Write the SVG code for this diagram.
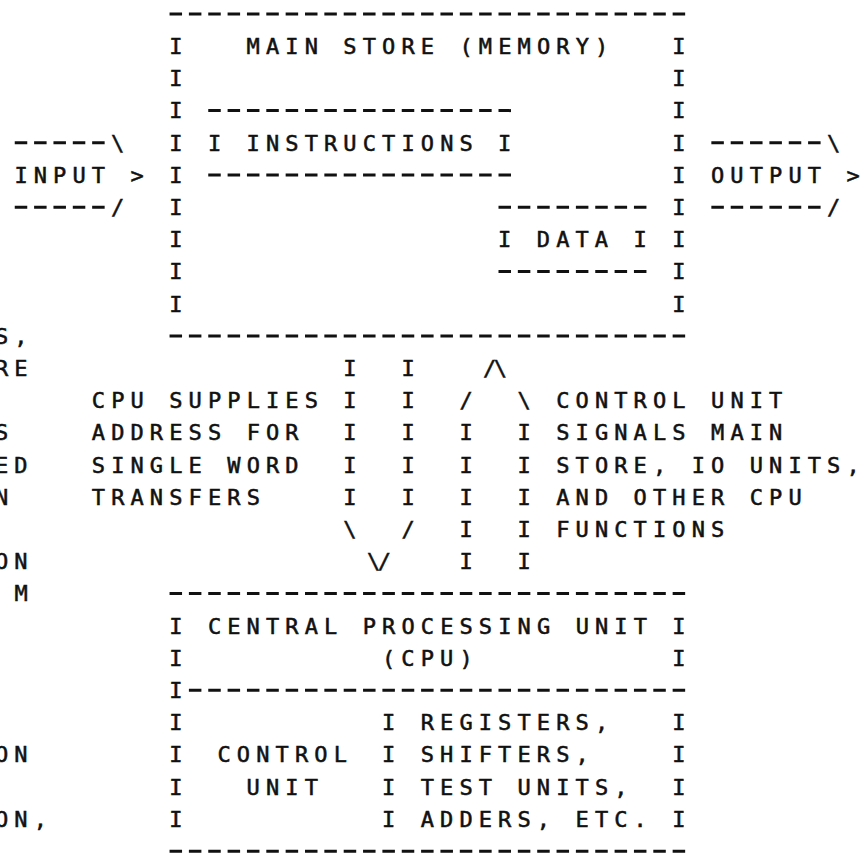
<svg xmlns="http://www.w3.org/2000/svg" width="864" height="857" viewBox="0 0 864 857">
<style>
.t{font-family:"DejaVu Sans Mono","Liberation Mono",monospace;font-size:22px;letter-spacing:6.11px;fill:#111;stroke:#111;stroke-width:0.55}
.v{letter-spacing:-2.5px}
.n{letter-spacing:0}
.d{stroke:#111;stroke-width:3;stroke-dasharray:12.5 6.85;fill:none}
</style>
<rect width="864" height="857" fill="#fff"/>

<g id="main-store">
<line class="d" x1="169.55" y1="14" x2="685.15" y2="14"/>
<line class="d" x1="169.55" y1="336" x2="685.15" y2="336"/>
<text class="t" x="169.2" y="54">I</text>
<text class="t" x="246.6" y="54">MAIN STORE (MEMORY)</text>
<text class="t" x="672.3" y="54">I</text>
<text class="t" x="169.2" y="86.2">I</text><text class="t" x="672.3" y="86.2">I</text>
<text class="t" x="169.2" y="118.4">I</text><text class="t" x="672.3" y="118.4">I</text>
<text class="t" x="169.2" y="150.6">I</text><text class="t" x="672.3" y="150.6">I</text>
<text class="t" x="169.2" y="182.8">I</text><text class="t" x="672.3" y="182.8">I</text>
<text class="t" x="169.2" y="215">I</text><text class="t" x="672.3" y="215">I</text>
<text class="t" x="169.2" y="247.2">I</text><text class="t" x="672.3" y="247.2">I</text>
<text class="t" x="169.2" y="279.4">I</text><text class="t" x="672.3" y="279.4">I</text>
<text class="t" x="169.2" y="311.6">I</text><text class="t" x="672.3" y="311.6">I</text>
</g>

<g id="instructions">
<line class="d" x1="208.25" y1="110.6" x2="511" y2="110.6"/>
<line class="d" x1="208.25" y1="175" x2="511" y2="175"/>
<text class="t" x="207.9" y="150.6">I</text>
<text class="t" x="246.6" y="150.6">INSTRUCTIONS</text>
<text class="t" x="498.1" y="150.6">I</text>
</g>

<g id="data">
<line class="d" x1="498.5" y1="207.2" x2="646.45" y2="207.2"/>
<line class="d" x1="498.5" y1="271.6" x2="646.45" y2="271.6"/>
<text class="t" x="498.1" y="247.2">I</text>
<text class="t" x="536.8" y="247.2">DATA</text>
<text class="t" x="633.6" y="247.2">I</text>
</g>

<g id="input">
<line class="d" x1="14.75" y1="142.8" x2="104.65" y2="142.8"/>
<text class="t" x="111.1" y="150.6">\</text>
<text class="t" x="14.4" y="182.8">INPUT &gt;</text>
<line class="d" x1="14.75" y1="207.2" x2="104.65" y2="207.2"/>
<text class="t" x="111.1" y="215">/</text>
</g>

<g id="output">
<line class="d" x1="711.35" y1="142.8" x2="820.6" y2="142.8"/>
<text class="t" x="827.1" y="150.6">\</text>
<text class="t n" x="711" y="182.8" textLength="148.7" lengthAdjust="spacing">OUTPUT &gt;</text>
<line class="d" x1="711.35" y1="207.2" x2="820.6" y2="207.2"/>
<text class="t" x="827.1" y="215">/</text>
</g>

<g id="connectors">
<g id="address-path">
<text class="t" x="343.3" y="376">I</text><text class="t" x="401.4" y="376">I</text>
<text class="t" x="343.3" y="408.2">I</text><text class="t" x="401.4" y="408.2">I</text>
<text class="t" x="343.3" y="440.4">I</text><text class="t" x="401.4" y="440.4">I</text>
<text class="t" x="343.3" y="472.6">I</text><text class="t" x="401.4" y="472.6">I</text>
<text class="t" x="343.3" y="504.8">I</text><text class="t" x="401.4" y="504.8">I</text>
<text class="t" x="343.3" y="537">\</text><text class="t" x="401.4" y="537">/</text>
<text class="t v" x="367" y="569.2">\/</text>
</g>
<g id="control-path">
<text class="t v" x="483" y="376">/\</text>
<text class="t" x="459.4" y="408.2">/</text><text class="t" x="517.5" y="408.2">\</text>
<text class="t" x="459.4" y="440.4">I</text><text class="t" x="517.5" y="440.4">I</text>
<text class="t" x="459.4" y="472.6">I</text><text class="t" x="517.5" y="472.6">I</text>
<text class="t" x="459.4" y="504.8">I</text><text class="t" x="517.5" y="504.8">I</text>
<text class="t" x="459.4" y="537">I</text><text class="t" x="517.5" y="537">I</text>
<text class="t" x="459.4" y="569.2">I</text><text class="t" x="517.5" y="569.2">I</text>
</g>
</g>

<g id="address-label">
<text class="t" x="91.8" y="408.2">CPU SUPPLIES</text>
<text class="t" x="91.8" y="440.4">ADDRESS FOR</text>
<text class="t" x="91.8" y="472.6">SINGLE WORD</text>
<text class="t" x="91.8" y="504.8">TRANSFERS</text>
</g>

<g id="control-label">
<text class="t" x="556.2" y="408.2">CONTROL UNIT</text>
<text class="t" x="556.2" y="440.4">SIGNALS MAIN</text>
<text class="t n" x="556.2" y="472.6" textLength="303.5" lengthAdjust="spacing">STORE, IO UNITS,</text>
<text class="t" x="556.2" y="504.8">AND OTHER CPU</text>
<text class="t" x="556.2" y="537">FUNCTIONS</text>
</g>

<g id="cpu">
<line class="d" x1="169.55" y1="593.6" x2="685.15" y2="593.6"/>
<line class="d" x1="169.55" y1="851.2" x2="685.15" y2="851.2"/>
<line class="d" x1="188.9" y1="690.2" x2="685.15" y2="690.2"/>
<text class="t" x="169.2" y="633.6">I</text>
<text class="t" x="207.9" y="633.6">CENTRAL PROCESSING UNIT</text>
<text class="t" x="672.3" y="633.6">I</text>
<text class="t" x="169.2" y="665.8">I</text>
<text class="t" x="382" y="665.8">(CPU)</text>
<text class="t" x="672.3" y="665.8">I</text>
<text class="t" x="169.2" y="698">I</text>
<text class="t" x="169.2" y="730.2">I</text><text class="t" x="672.3" y="730.2">I</text>
<text class="t" x="169.2" y="762.4">I</text><text class="t" x="672.3" y="762.4">I</text>
<text class="t" x="169.2" y="794.6">I</text><text class="t" x="672.3" y="794.6">I</text>
<text class="t" x="169.2" y="826.8">I</text><text class="t" x="672.3" y="826.8">I</text>
<g id="control-unit">
<text class="t" x="217.5" y="762.4">CONTROL</text>
<text class="t" x="246.6" y="794.6">UNIT</text>
<text class="t" x="382" y="730.2">I</text>
<text class="t" x="382" y="762.4">I</text>
<text class="t" x="382" y="794.6">I</text>
<text class="t" x="382" y="826.8">I</text>
</g>
<g id="registers">
<text class="t" x="420.7" y="730.2">REGISTERS,</text>
<text class="t" x="420.7" y="762.4">SHIFTERS,</text>
<text class="t" x="420.7" y="794.6">TEST UNITS,</text>
<text class="t" x="420.7" y="826.8">ADDERS, ETC.</text>
</g>
</g>

<g id="margin-fragments">
<text class="t" x="-5" y="343.8">S,</text>
<text class="t" x="-5" y="376">RE</text>
<text class="t" x="-5" y="440.4">S</text>
<text class="t" x="-5" y="472.6">ED</text>
<text class="t" x="-5" y="504.8">N</text>
<text class="t" x="-5" y="569.2">ON</text>
<text class="t" x="14.4" y="601.4">M</text>
<text class="t" x="-5" y="762.4">ON</text>
<text class="t" x="-5" y="826.8">ON,</text>
</g>
</svg>
